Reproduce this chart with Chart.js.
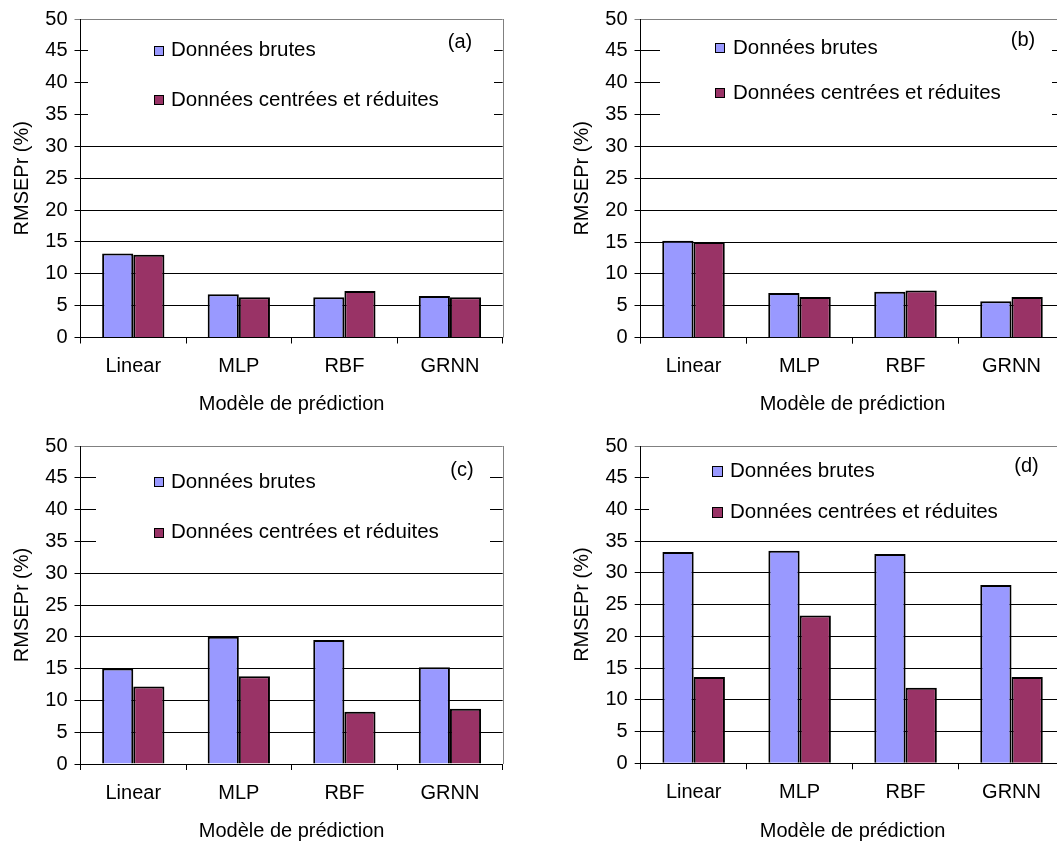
<!DOCTYPE html>
<html><head><meta charset="utf-8">
<script src="https://cdn.jsdelivr.net/npm/chart.js@4"></script>
<style>
html,body{margin:0;padding:0;background:#fff;overflow:hidden;width:1057px;height:841px;position:relative;}
canvas{position:absolute;}
</style></head><body>
<canvas id="ca" width="528" height="420" style="left:0px;top:0px"></canvas>
<canvas id="cb" width="545" height="420" style="left:528px;top:0px"></canvas>
<canvas id="cc" width="528" height="420" style="left:0px;top:427px"></canvas>
<canvas id="cd" width="545" height="420" style="left:528px;top:427px"></canvas>
<script>
// ---- data ----
const categories = ['Linear', 'MLP', 'RBF', 'GRNN'];
const seriesLabels = ['Données brutes', 'Données centrées et réduites'];
const panelTags = ['(a)', '(b)', '(c)', '(d)'];
const yAxisTitle = 'RMSEPr (%)';
const xAxisTitle = 'Modèle de prédiction';
const yMin = 0, yMax = 50, yStep = 5;

const brutesA   = [13.2, 6.8, 6.3, 6.5];
const centreesA = [13.0, 6.3, 7.3, 6.3];
const brutesB   = [15.2, 7.0, 7.2, 5.7];
const centreesB = [15.0, 6.4, 7.4, 6.4];
const brutesC   = [15.0, 20.0, 19.5, 15.2];
const centreesC = [12.2, 13.8, 8.2, 8.7];
const brutesD   = [33.3, 33.5, 33.0, 28.1];
const centreesD = [13.6, 23.3, 11.9, 13.6];

// ---- styling / layout ----
const FONT = '"Liberation Sans", Arial, sans-serif';
const colBrutes = '#9999FF';
const colCentrees = '#993366';

const panels = [
  {id:'ca', W:528, H:420, b:brutesA, c:centreesA, tag:panelTags[0],
   area:{l:80.5, t:18.6, r:502.7, b:337.5}, yTitlePad:10.5, xTitlePad:4,
   leg:{box:[88,26,494,128], mx:154, ms:10, tx:171, ty:[50.7,100.4], tagX:460, tagY:42}},
  {id:'cb', W:545, H:420, b:brutesB, c:centreesB, tag:panelTags[1],
   area:{l:112.5, t:18.8, r:536.5, b:337.7}, yTitlePad:42.5, xTitlePad:4,
   leg:{box:[132,26,524,128], mx:187, ms:10, tx:205, ty:[48,93], tagX:495, tagY:40}},
  {id:'cc', W:528, H:420, b:brutesC, c:centreesC, tag:panelTags[2],
   area:{l:80.5, t:19, r:502.7, b:337}, yTitlePad:10.5, xTitlePad:4,
   leg:{box:[96,28,490,128], mx:154, ms:10, tx:171, ty:[54.9,105.6], tagX:462, tagY:43.7}},
  {id:'cd', W:545, H:420, b:brutesD, c:centreesD, tag:panelTags[3],
   area:{l:112.7, t:18.7, r:536.5, b:336.3}, yTitlePad:42.5, xTitlePad:4,
   leg:{box:[121,28,540,105], mx:184, ms:11, tx:202, ty:[44.7,85.7], tagX:498.5, tagY:39.7}}
];

const panelDecor = {
  id: 'panelDecor',
  beforeDatasetsDraw(chart, args, opts) {
    const ctx = chart.ctx, a = chart.chartArea, L = opts.leg;
    ctx.save();
    // right border (grey)
    ctx.strokeStyle = '#808080'; ctx.lineWidth = 1;
    const rx = Math.round(a.right) + 0.5;
    ctx.beginPath(); ctx.moveTo(rx, a.top); ctx.lineTo(rx, a.bottom); ctx.stroke();
    // legend background (opaque white)
    ctx.fillStyle = '#fff';
    ctx.fillRect(L.box[0], L.box[1], L.box[2] - L.box[0], L.box[3] - L.box[1]);
    ctx.font = '20.5px ' + FONT;
    ctx.textBaseline = 'middle';
    chart.data.datasets.forEach((ds, i) => {
      const y = L.ty[i];
      const x0 = Math.round(L.mx), y0 = Math.round(y - L.ms / 2);
      ctx.fillStyle = ds.backgroundColor;
      ctx.fillRect(x0, y0, L.ms, L.ms);
      ctx.strokeStyle = '#000'; ctx.lineWidth = 1;
      ctx.strokeRect(x0 + 0.5, y0 + 0.5, L.ms - 1, L.ms - 1);
      ctx.fillStyle = '#000'; ctx.textAlign = 'left';
      ctx.fillText(ds.label, L.tx, y);
    });
    ctx.font = '20px ' + FONT;
    ctx.textAlign = 'center';
    ctx.fillStyle = '#000';
    ctx.fillText(opts.tag, L.tagX, L.tagY);
    ctx.restore();
  }
};

panels.forEach(p => {
  new Chart(document.getElementById(p.id), {
    type: 'bar',
    data: {
      labels: categories,
      datasets: [
        {label: seriesLabels[0], data: p.b, backgroundColor: colBrutes, borderColor: '#000', borderWidth: 2,
         categoryPercentage: 0.59, barPercentage: 1.0},
        {label: seriesLabels[1], data: p.c, backgroundColor: colCentrees, borderColor: '#000', borderWidth: 2,
         categoryPercentage: 0.59, barPercentage: 1.0}
      ]
    },
    plugins: [panelDecor],
    options: {
      responsive: false,
      animation: false,
      devicePixelRatio: 1,
      layout: {padding: {left: 0, top: p.area.t, right: p.W - p.area.r, bottom: 0}},
      plugins: {
        legend: {display: false},
        tooltip: {enabled: false},
        panelDecor: {leg: p.leg, tag: p.tag}
      },
      scales: {
        x: {
          type: 'category',
          offset: true,
          grid: {offset: true, drawOnChartArea: false, drawTicks: true, tickLength: 6, color: '#000', lineWidth: 1},
          border: {display: true, color: '#000', width: 1},
          ticks: {color: '#000', font: {family: FONT, size: 20}, padding: 11, maxRotation: 0, autoSkip: false},
          title: {display: true, text: xAxisTitle, color: '#000', font: {family: FONT, size: 20},
                  padding: {top: 0, bottom: p.xTitlePad}},
          afterFit(s) { s.height = p.H - p.area.b; }
        },
        y: {
          min: yMin, max: yMax,
          ticks: {stepSize: yStep, color: '#000', font: {family: FONT, size: 20}, padding: 7},
          grid: {color: c => (c.tick && c.tick.value === yMax) ? '#808080' : '#000', lineWidth: 1, tickLength: 6},
          border: {display: true, color: '#000', width: 1},
          title: {display: true, text: yAxisTitle, color: '#000', font: {family: FONT, size: 20},
                  padding: {top: p.yTitlePad, bottom: 0}},
          afterFit(s) { s.width = p.area.l; }
        }
      }
    }
  });
});
</script>
</body></html>
